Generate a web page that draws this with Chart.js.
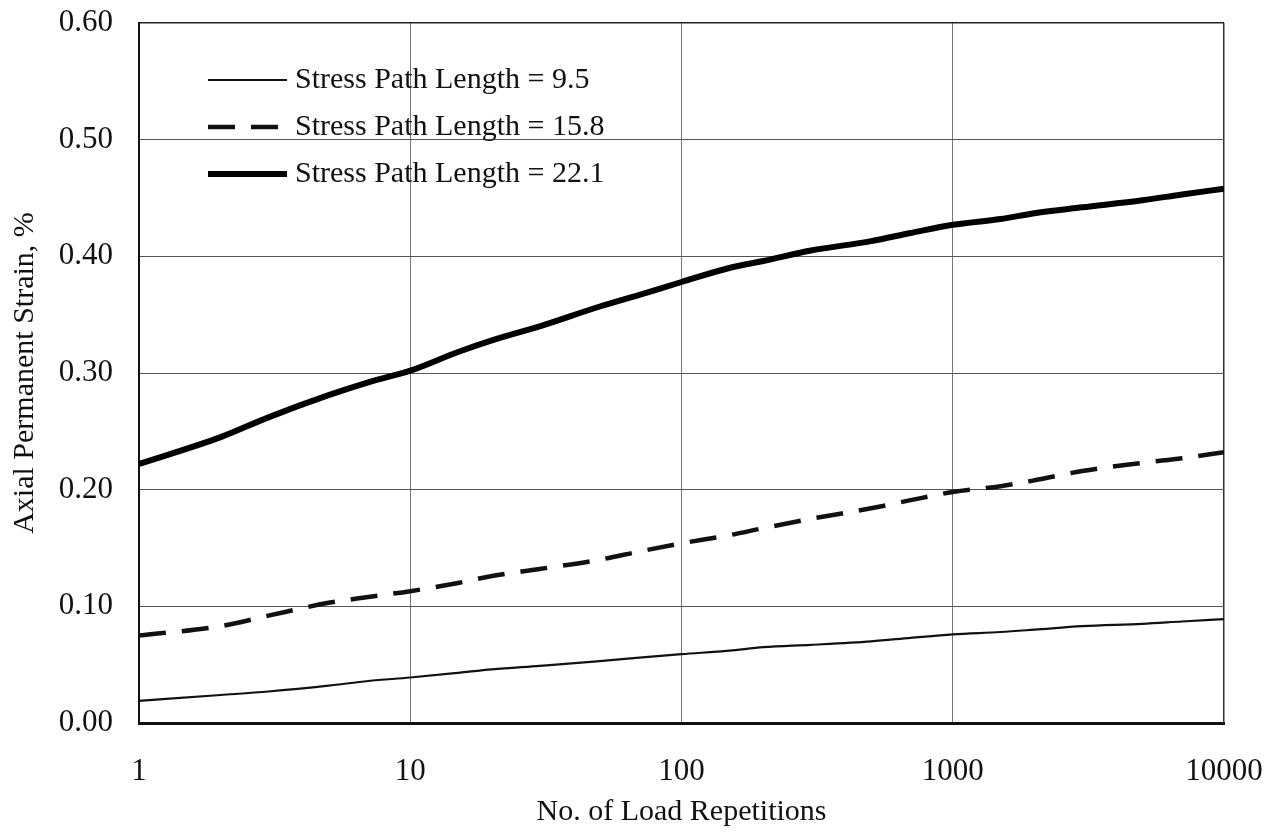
<!DOCTYPE html>
<html lang="en">
<head>
    <meta charset="UTF-8">
    <title>Axial Permanent Strain</title>
    <script src="https://cdn.jsdelivr.net/npm/chart.js@4/dist/chart.umd.min.js"></script>
    <style>
      body { margin: 0; background: #fff; }
      .container { width: 1264px; height: 838px; position: relative; }
    </style>
</head>
<body>
    <div class="container">
        <canvas id="strainChart"></canvas>
    </div>

    <script>
        // load repetitions (x) and strain readings (%) for each stress path length
        const reps = [1, 2, 3, 5, 7, 10, 15, 20, 30, 50, 70, 100, 150, 200, 300, 500, 700, 1000, 1500, 2000, 3000, 5000, 7000, 10000];
        const strain95  = [0.019, 0.024, 0.027, 0.032, 0.036, 0.039, 0.043, 0.046, 0.049, 0.053, 0.056, 0.059, 0.062, 0.065, 0.067, 0.070, 0.073, 0.076, 0.078, 0.080, 0.083, 0.085, 0.087, 0.089];
        const strain158 = [0.075, 0.083, 0.092, 0.103, 0.108, 0.113, 0.120, 0.126, 0.132, 0.140, 0.147, 0.154, 0.161, 0.167, 0.175, 0.184, 0.191, 0.198, 0.203, 0.208, 0.216, 0.223, 0.227, 0.232];
        const strain221 = [0.222, 0.245, 0.262, 0.281, 0.292, 0.302, 0.318, 0.328, 0.340, 0.357, 0.367, 0.378, 0.390, 0.396, 0.405, 0.413, 0.420, 0.427, 0.432, 0.437, 0.442, 0.448, 0.453, 0.458];
        const seriesLabels = ['Stress Path Length = 9.5', 'Stress Path Length = 15.8', 'Stress Path Length = 22.1'];
        const xTicks = [1, 10, 100, 1000, 10000];

        const serif = "'Liberation Serif', 'Times New Roman', serif";
        Chart.defaults.font.family = serif;
        Chart.defaults.color = '#111';

        function toPoints(values) {
          return reps.map((n, i) => ({ x: n, y: values[i] }));
        }

        // legend drawn inside the plot, top-left, like the original figure
        const insideLegend = {
          id: 'insideLegend',
          afterDraw(chart, args, opts) {
            const ctx = chart.ctx;
            const area = chart.chartArea;
            ctx.save();
            ctx.font = opts.fontSize + 'px ' + serif;
            ctx.textBaseline = 'middle';
            ctx.fillStyle = '#111';
            chart.data.datasets.forEach((ds, i) => {
              const y = area.top + opts.top + i * opts.rowGap;
              const x0 = area.left + opts.left;
              ctx.beginPath();
              ctx.lineWidth = ds.borderWidth;
              ctx.strokeStyle = ds.borderColor;
              ctx.setLineDash(ds.borderDash || []);
              ctx.moveTo(x0, y);
              ctx.lineTo(x0 + opts.lineLen, y);
              ctx.stroke();
              ctx.fillText(ds.label, x0 + opts.lineLen + opts.textGap, y);
            });
            ctx.restore();
          }
        };

        const ctx = document.getElementById('strainChart');

        new Chart(ctx, {
          type: 'line',
          data: {
            datasets: [
              {
                label: seriesLabels[0],
                data: toPoints(strain95),
                borderColor: '#111',
                borderWidth: 2.2,
                pointRadius: 0,
                cubicInterpolationMode: 'monotone'
              },
              {
                label: seriesLabels[1],
                data: toPoints(strain158),
                borderColor: '#111',
                borderWidth: 4.5,
                borderDash: [27, 16],
                pointRadius: 0,
                cubicInterpolationMode: 'monotone'
              },
              {
                label: seriesLabels[2],
                data: toPoints(strain221),
                borderColor: '#000',
                borderWidth: 6,
                pointRadius: 0,
                cubicInterpolationMode: 'monotone'
              }
            ]
          },
          options: {
            responsive: true,
            maintainAspectRatio: false,
            animation: false,
            layout: {
              autoPadding: false,
              padding: { top: 23, right: 40, left: 0, bottom: 0 }
            },
            plugins: {
              legend: { display: false },
              tooltip: { enabled: false },
              insideLegend: { top: 57, left: 69, rowGap: 47, lineLen: 79, textGap: 8, fontSize: 30 }
            },
            scales: {
              x: {
                type: 'logarithmic',
                min: 1,
                max: 10000,
                afterBuildTicks(scale) {
                  scale.ticks = xTicks.map(v => ({ value: v }));
                },
                afterFit(scale) {
                  scale.height = 115;
                  scale.paddingLeft = 0;
                  scale.paddingRight = 0;
                },
                ticks: {
                  padding: 30,
                  font: { size: 31 },
                  maxRotation: 0,
                  autoSkip: false,
                  callback: v => String(v)
                },
                grid: {
                  drawTicks: false,
                  color: ctx => ctx.tick && ctx.tick.value === 10000 ? '#333' : '#777',
                  lineWidth: ctx => ctx.tick && ctx.tick.value === 10000 ? 1.5 : 1
                },
                border: { color: '#111', width: 3 },
                title: {
                  display: true,
                  text: 'No. of Load Repetitions',
                  font: { size: 30 },
                  padding: { top: 0, bottom: 8 }
                }
              },
              y: {
                min: 0,
                max: 0.6,
                afterFit(scale) {
                  scale.width = 139;
                  scale.paddingTop = 0;
                  scale.paddingBottom = 0;
                },
                ticks: {
                  stepSize: 0.1,
                  padding: 26,
                  font: { size: 31 },
                  callback: v => v.toFixed(2)
                },
                grid: {
                  drawTicks: false,
                  color: ctx => ctx.tick && Math.abs(ctx.tick.value - 0.6) < 1e-6 ? '#222' : '#555',
                  lineWidth: ctx => ctx.tick && Math.abs(ctx.tick.value - 0.6) < 1e-6 ? 1.5 : 1
                },
                border: { color: '#111', width: 2 },
                title: {
                  display: true,
                  text: 'Axial Permanent Strain, %',
                  font: { size: 30 },
                  padding: { top: 7, bottom: 0 }
                }
              }
            }
          },
          plugins: [insideLegend]
        });
    </script>
</body>
</html>
